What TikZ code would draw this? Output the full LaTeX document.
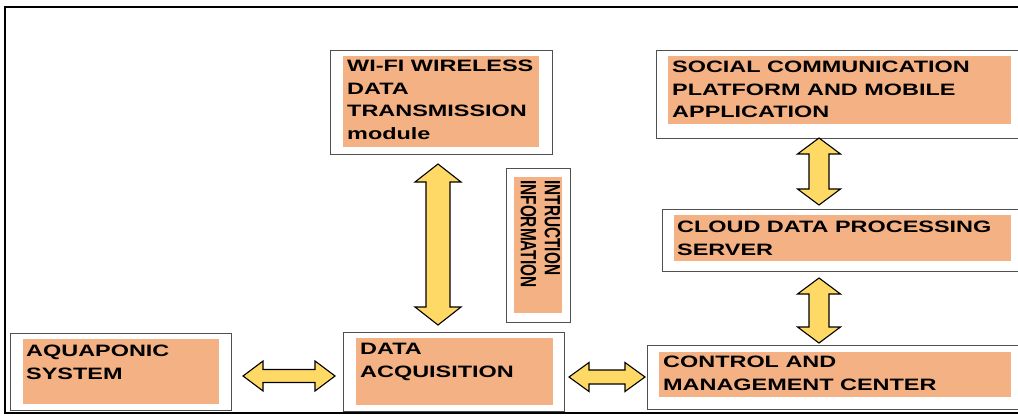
\documentclass[tikz,border=0pt]{standalone}
\usepackage{fontspec}
\usepackage{graphicx}
\setmainfont{Liberation Sans}
\newfontfamily\wideboxfont[FakeStretch=1.42]{Liberation Sans}
\definecolor{boxorange}{HTML}{F4B183}
\definecolor{arrowyellow}{HTML}{FFD966}
\definecolor{boxgray}{HTML}{505050}
\tikzset{
  outerbox/.style={draw=boxgray, line width=1.4pt, fill=white, inner sep=0pt, anchor=north west},
  boxlabel/.style={inner sep=0pt, anchor=north west, align=left, font=\wideboxfont\bfseries\fontsize{16.5}{22.5}\selectfont},
  blockarrow/.style={draw=black, fill=arrowyellow, line width=1.1pt, line join=miter},
}
% vertical double block arrow: cx, ytop, ybot, halfshaft, halfhead, headlen
\newcommand\vdarr[6]{\draw[blockarrow] (#1,#2) -- ({#1+#5},{#2+#6}) -- ({#1+#4},{#2+#6}) -- ({#1+#4},{#3-#6}) -- ({#1+#5},{#3-#6}) -- (#1,#3) -- ({#1-#5},{#3-#6}) -- ({#1-#4},{#3-#6}) -- ({#1-#4},{#2+#6}) -- ({#1-#5},{#2+#6}) -- cycle;}
% horizontal double block arrow: cy, xleft, xright, halfshaft, halfhead, headlen
\newcommand\hdarr[6]{\draw[blockarrow] (#2,#1) -- ({#2+#6},{#1-#5}) -- ({#2+#6},{#1-#4}) -- ({#3-#6},{#1-#4}) -- ({#3-#6},{#1-#5}) -- (#3,#1) -- ({#3-#6},{#1+#5}) -- ({#3-#6},{#1+#4}) -- ({#2+#6},{#1+#4}) -- ({#2+#6},{#1+#5}) -- cycle;}
\begin{document}
\begin{tikzpicture}[x=1pt,y=-1pt]
\useasboundingbox (0,0) rectangle (1018,417);
\clip (0,0) rectangle (1018,417);
\fill[white] (0,0) rectangle (1018,417);
% outer frame
\draw[line width=1.5pt] (1030,413) -- (5,413) -- (5,7);
\draw[line width=2.4pt] (4,7) -- (1030,7);

% boxes
\node[outerbox, minimum width=222pt, minimum height=104pt] (wifi) at (330,50) {};
\fill[boxorange] (343,56) rectangle (539,147);
\node[boxlabel] (wifitext) at (347,60.2) {WI-FI WIRELESS\\DATA\\TRANSMISSION\\module};

\node[outerbox, minimum width=374pt, minimum height=88pt] (social) at (656,50) {};
\fill[boxorange] (668,56) rectangle (1011,124);
\node[boxlabel] (socialtext) at (672,61.2) {SOCIAL COMMUNICATION\\PLATFORM AND MOBILE\\APPLICATION};

\node[outerbox, minimum width=368pt, minimum height=62pt] (cloud) at (662,209) {};
\fill[boxorange] (674,215) rectangle (1011,261);
\node[boxlabel] (cloudtext) at (677,221.2) {CLOUD DATA PROCESSING\\SERVER};

\node[outerbox, minimum width=383pt, minimum height=64pt] (control) at (647,345) {};
\fill[boxorange] (659,352) rectangle (1011,397);
\node[boxlabel] (controltext) at (663,356.2) {CONTROL AND\\MANAGEMENT CENTER};

\node[outerbox, minimum width=221pt, minimum height=77pt] (aqua) at (10,333) {};
\fill[boxorange] (23,339) rectangle (219,404);
\node[boxlabel] (aquatext) at (26,345.2) {AQUAPONIC\\SYSTEM};

\node[outerbox, minimum width=221pt, minimum height=79pt] (daq) at (343,332) {};
\fill[boxorange] (356,338) rectangle (553,405);
\node[boxlabel] (daqtext) at (360,343.2) {DATA\\ACQUISITION};

\node[outerbox, minimum width=64pt, minimum height=154pt] (instr) at (506,168) {};
\fill[boxorange] (514,177) rectangle (562,313);
\node[inner sep=0pt, anchor=north west, rotate=-90] (instrtext) at (560.5,180)
  {\scalebox{1}[1.43]{\vbox{\bfseries\fontsize{15.4}{16.8}\selectfont\hbox{INTRUCTION}\hbox{INFORMATION}}}};

% block arrows
\vdarr{438}{164}{325}{12}{23}{18}
\vdarr{819}{138}{205}{10}{21.5}{16}
\vdarr{819}{278}{343}{10}{21.5}{16}
\hdarr{376}{243}{335}{6.5}{15}{20}
\hdarr{377}{569}{645}{7}{14.5}{20}
\end{tikzpicture}
\end{document}
